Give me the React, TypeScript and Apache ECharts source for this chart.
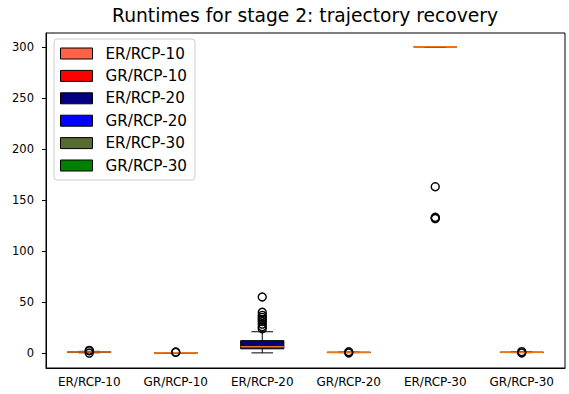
import React, { useEffect, useRef } from 'react';
import * as echarts from 'echarts';

const categories = ['ER/RCP-10', 'GR/RCP-10', 'ER/RCP-20', 'GR/RCP-20', 'ER/RCP-30', 'GR/RCP-30'];
const boxColors = ['#ff6347', '#ff0000', '#000080', '#0000ff', '#556b2f', '#008000'];
const whiskerLow = [0.4, 0.1, 0.3, 0.5, 300, 0.5];
const quartile1 = [0.9, 0.2, 4.3, 0.7, 300, 0.7];
const medians = [1.1, 0.3, 6.3, 0.8, 300, 0.9];
const quartile3 = [1.3, 0.4, 12.3, 0.9, 300, 1.0];
const whiskerHigh = [1.8, 0.6, 21, 1.1, 300, 1.2];
const outliers = [
  [0.1, 2.4, 2.7],
  [0.9, 1.1],
  [24, 26, 28.5, 31, 33, 35, 37, 40, 55],
  [0.2, 1.4],
  [163, 133, 132.4, 131.8],
  [0.2, 1.5],
];
const yTicks = [0, 50, 100, 150, 200, 250, 300];
const titleText = 'Runtimes for stage 2: trajectory recovery';

const FONT = 'DejaVu Sans';
const MEDIAN_COLOR = '#ee7418';

export default function App() {
  const ref = useRef<HTMLDivElement>(null);
  useEffect(() => {
    if (!ref.current) return;
    const chart = echarts.init(ref.current, undefined, { renderer: 'svg' });

    const boxSeries = categories.map((name, i) => ({
      type: 'custom',
      name,
      itemStyle: { color: boxColors[i], borderColor: '#000', borderWidth: 1 },
      encode: { x: 0, y: [1, 2, 3, 4, 5] },
      data: [[i, whiskerLow[i], quartile1[i], medians[i], quartile3[i], whiskerHigh[i]]],
      z: 2,
      silent: true,
      renderItem: (params: any, api: any) => {
        const x = api.value(0);
        const lo = api.coord([x, api.value(1)]);
        const q1 = api.coord([x, api.value(2)]);
        const md = api.coord([x, api.value(3)]);
        const q3 = api.coord([x, api.value(4)]);
        const hi = api.coord([x, api.value(5)]);
        const bw = api.size([1, 0])[0] * 0.5;
        const cx = lo[0];
        const cap = bw / 4;
        const ls = { stroke: '#000', lineWidth: 1 };
        return {
          type: 'group',
          children: [
            { type: 'line', shape: { x1: cx, y1: lo[1], x2: cx, y2: q1[1] }, style: ls },
            { type: 'line', shape: { x1: cx, y1: q3[1], x2: cx, y2: hi[1] }, style: ls },
            { type: 'line', shape: { x1: cx - cap, y1: lo[1], x2: cx + cap, y2: lo[1] }, style: ls },
            { type: 'line', shape: { x1: cx - cap, y1: hi[1], x2: cx + cap, y2: hi[1] }, style: ls },
            {
              type: 'rect',
              shape: { x: cx - bw / 2, y: q3[1], width: bw, height: q1[1] - q3[1] },
              style: { fill: boxColors[i], stroke: '#000', lineWidth: 1 },
            },
            {
              type: 'line',
              shape: { x1: cx - bw / 2, y1: md[1], x2: cx + bw / 2, y2: md[1] },
              style: { stroke: MEDIAN_COLOR, lineWidth: 1.6 },
            },
          ],
        };
      },
    }));

    const outlierPoints: number[][] = [];
    outliers.forEach((vals, i) => vals.forEach((v) => outlierPoints.push([i, v])));

    chart.setOption({
      animation: false,
      title: {
        text: titleText,
        left: 305,
        top: 6,
        padding: 0,
        textAlign: 'center',
        textStyle: { fontFamily: FONT, fontSize: 18.7, fontWeight: 'normal', color: '#000' },
      },
      grid: {
        left: 46,
        right: 4,
        top: 33,
        bottom: 26,
        show: true,
        borderColor: '#000',
        borderWidth: 1,
        backgroundColor: 'transparent',
      },
      legend: {
        orient: 'vertical',
        left: 54,
        top: 39,
        padding: [7, 8, 7, 6],
        itemWidth: 32,
        itemHeight: 11,
        itemGap: 7.4,
        icon: 'rect',
        selectedMode: false,
        borderColor: '#cccccc',
        borderWidth: 1,
        borderRadius: 3,
        backgroundColor: 'rgba(255,255,255,0.8)',
        textStyle: { fontFamily: FONT, fontSize: 15.2, color: '#000', lineHeight: 15, padding: [0, 0, 0, 8] },
        data: categories.map((c, i) => ({
          name: c,
          itemStyle: { color: boxColors[i], borderColor: '#000', borderWidth: 1 },
        })),
      },
      xAxis: {
        type: 'category',
        data: categories,
        boundaryGap: true,
        axisLine: { onZero: false, lineStyle: { color: '#000', width: 1 } },
        axisTick: { alignWithLabel: true, length: 4, lineStyle: { color: '#000' } },
        axisLabel: { fontFamily: FONT, fontSize: 12, color: '#000', margin: 8, interval: 0 },
        splitLine: { show: false },
      },
      yAxis: {
        type: 'value',
        min: -14.5,
        max: 313.5,
        axisLine: { show: true, onZero: false, lineStyle: { color: '#000', width: 1 } },
        axisTick: { show: true, length: 4, lineStyle: { color: '#000' }, customValues: yTicks },
        axisLabel: { fontFamily: FONT, fontSize: 11.5, color: '#000', margin: 12, customValues: yTicks },
        splitLine: { show: false },
      },
      series: [
        ...boxSeries,
        {
          type: 'scatter',
          name: 'outliers',
          data: outlierPoints,
          symbol: 'circle',
          symbolSize: 8,
          silent: true,
          z: 5,
          itemStyle: { color: 'rgba(0,0,0,0)', borderColor: '#000', borderWidth: 1.4, opacity: 1 },
        },
      ],
    });
    return () => chart.dispose();
  }, []);
  return (
    <div
      ref={ref}
      style={{ position: 'absolute', left: 0, top: 0, width: 569, height: 394, background: '#fff' }}
    />
  );
}
